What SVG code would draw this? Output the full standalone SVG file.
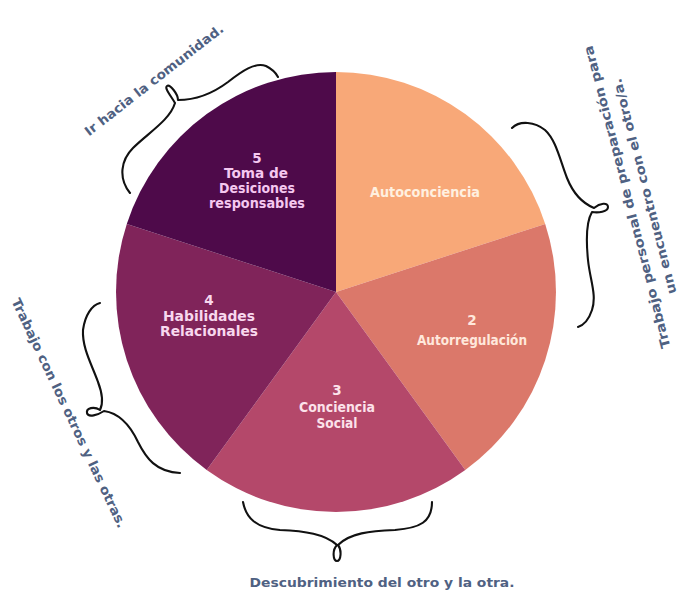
<svg xmlns="http://www.w3.org/2000/svg" width="682" height="593" viewBox="0 0 682 593">
<style>
.lbl{font-family:"DejaVu Sans","Inter",sans-serif;font-weight:700;font-size:13.5px;text-anchor:middle}
.out{font-family:"DejaVu Sans","Inter",sans-serif;font-weight:700;font-size:13px;fill:#4F6182;text-anchor:middle}
.brace{fill:none;stroke:#111;stroke-width:2.1;stroke-linecap:round;stroke-linejoin:round}
</style>
<rect width="682" height="593" fill="#ffffff"/>
<g id="slice1">
<path d="M336,292 L336,72 A220,220 0 0 1 545.2,224 Z" fill="#F8A878"/>
<text class="lbl" x="425" y="197" fill="#FFF0E0" textLength="110" lengthAdjust="spacingAndGlyphs">Autoconciencia</text>
</g>
<g id="slice2">
<path d="M336,292 L545.2,224 A220,220 0 0 1 465.3,470 Z" fill="#DB786A"/>
<text class="lbl" x="472" y="325" fill="#FFE8DC">2</text>
<text class="lbl" x="472" y="344.5" fill="#FFE8DC" textLength="110" lengthAdjust="spacingAndGlyphs">Autorregulación</text>
</g>
<g id="slice3">
<path d="M336,292 L465.3,470 A220,220 0 0 1 206.7,470 Z" fill="#B4486A"/>
<text class="lbl" x="337" y="395" fill="#FCE2EA">3</text>
<text class="lbl" x="337" y="412" fill="#FCE2EA" textLength="76" lengthAdjust="spacingAndGlyphs">Conciencia</text>
<text class="lbl" x="337" y="428" fill="#FCE2EA" textLength="41" lengthAdjust="spacingAndGlyphs">Social</text>
</g>
<g id="slice4">
<path d="M336,292 L206.7,470 A220,220 0 0 1 126.8,224 Z" fill="#80245A"/>
<text class="lbl" x="209" y="305" fill="#F8D8EE">4</text>
<text class="lbl" x="209" y="321" fill="#F8D8EE" textLength="92" lengthAdjust="spacingAndGlyphs">Habilidades</text>
<text class="lbl" x="209" y="336" fill="#F8D8EE" textLength="98" lengthAdjust="spacingAndGlyphs">Relacionales</text>
</g>
<g id="slice5">
<path d="M336,292 L126.8,224 A220,220 0 0 1 336,72 Z" fill="#4E0A4A"/>
<text class="lbl" x="257" y="163" fill="#F5C8F0">5</text>
<text class="lbl" x="256" y="178" fill="#F5C8F0" textLength="64" lengthAdjust="spacingAndGlyphs">Toma de</text>
<text class="lbl" x="257" y="193" fill="#F5C8F0" textLength="76" lengthAdjust="spacingAndGlyphs">Desiciones</text>
<text class="lbl" x="257" y="208" fill="#F5C8F0" textLength="96" lengthAdjust="spacingAndGlyphs">responsables</text>
</g>
<g id="connectors">
<path class="brace" d="M130,193 C118,178 121,160 133,148 C148,133 170,120 175,103 C171,96 164,88 167,86 C170,84 178,94 178,100 C195,100 212,94 228,82 C242,71 255,62 266,66 C272,69 276,73 278,77"/>
<path class="brace" d="M512,128 C520,120 535,122 545,130 C556,140 560,160 567,178 C573,193 582,203 594,208 C600,203 608,202 608,207 C608,212 598,213 592,212 C586,222 586,240 588,260 C590,280 597,295 592,310 C589,319 584,325 578,327"/>
<path class="brace" d="M100,303 C92,305 85,315 83,330 C82,348 92,365 98,382 C103,395 103,404 100,410 C94,406 86,408 87,413 C88,418 98,415 104,411 C118,413 130,425 138,442 C146,458 156,472 180,473"/>
<path class="brace" d="M243,502 C246,518 256,528 280,530 C305,531 325,534 337,545 C332,550 333,561 337,561 C341,561 342,550 338,545 C350,533 370,531 395,530 C420,528 432,522 432,502"/>
</g>
<g id="label-top">
<text class="out" transform="translate(154,80) rotate(-38)" x="0" y="4.5" textLength="172" lengthAdjust="spacingAndGlyphs">Ir hacia la comunidad.</text>
</g>
<g id="label-right">
<g transform="translate(627,197) rotate(-104.5)">
<text class="out" x="0" y="4.5" textLength="312" lengthAdjust="spacingAndGlyphs">Trabajo personal de preparación para</text>
<text class="out" x="6" y="24" textLength="222" lengthAdjust="spacingAndGlyphs">un encuentro con el otro/a.</text>
</g>
</g>
<g id="label-left">
<text class="out" transform="translate(69,413) rotate(64.8)" x="0" y="4.5" textLength="252" lengthAdjust="spacingAndGlyphs">Trabajo con los otros y las otras.</text>
</g>
<g id="label-bottom">
<text class="out" x="382" y="586.5" textLength="265" lengthAdjust="spacingAndGlyphs">Descubrimiento del otro y la otra.</text>
</g>
</svg>
